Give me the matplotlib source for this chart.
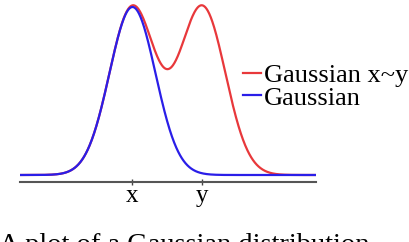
import numpy as np
import matplotlib
matplotlib.use('Agg')
import matplotlib.pyplot as plt

# Parameters (units of one standard deviation)
mu_x = 0.0
mu_y = 3.04
sigma = 1.0
x_range = [-4.89, 7.98]
tick_pos = [mu_x, mu_y]
tick_labels = ['x', 'y']
series_labels = ['Gaussian x~y', 'Gaussian']
caption = 'A plot of a Gaussian distribution'

plt.rcParams['font.family'] = ['Liberation Serif', 'DejaVu Serif']

t = np.linspace(x_range[0], x_range[1], 800)
g_x = np.exp(-(t - mu_x) ** 2 / (2 * sigma ** 2))
g_y = np.exp(-(t - mu_y) ** 2 / (2 * sigma ** 2))
mix = g_x + g_y

fig = plt.figure(figsize=(4.1, 2.42), dpi=100)
ax = fig.add_axes([20 / 410, 60 / 242, 296 / 410, 182 / 242])

ax.plot(t, mix, color='#e8383b', lw=1.6, label=series_labels[0])
ax.plot(t, g_x, color='#2a1ee8', lw=1.6, label=series_labels[1])

ax.set_xlim(x_range)
ax.set_ylim(-0.0417, 1.0417)
ax.set_yticks([])
ax.set_xticks(tick_pos)
ax.set_xticklabels(tick_labels, fontsize=18)
ax.tick_params(axis='x', direction='inout', length=5, width=1, color='#444444', pad=0)
for s in ['top', 'right', 'left']:
    ax.spines[s].set_visible(False)
ax.spines['bottom'].set_color('#555555')
ax.spines['bottom'].set_linewidth(1.5)

fig.legend(loc='upper left', bbox_to_anchor=(243 / 410, 1 - 64 / 242), frameon=False,
           fontsize=19, handlelength=0.7, handletextpad=0.08, labelspacing=-0.05,
           borderpad=0, borderaxespad=0)

# caption is cut by the bottom edge in the reference
fig.text(-0.003, 1 - 233 / 242, caption, fontsize=20.5, va='top', ha='left')

fig.savefig('out.png', dpi=100)
